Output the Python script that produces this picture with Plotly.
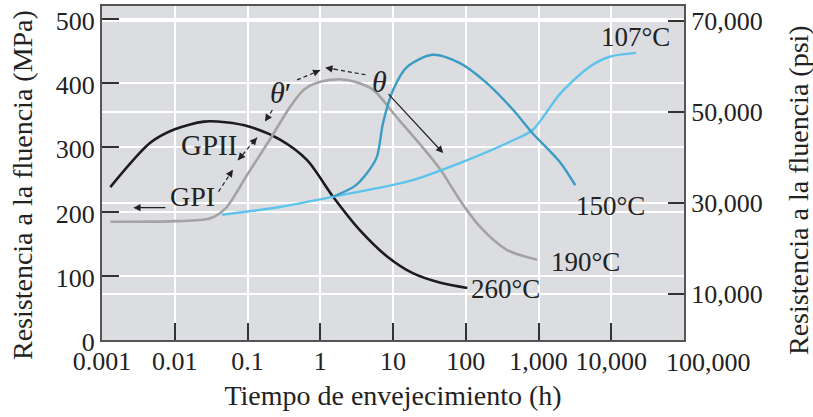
import numpy as np
import plotly.graph_objects as go

# ---- data (aging time in h, yield strength in MPa) ----
t_260 = [0.0013, 0.0046, 0.01, 0.025, 0.05, 0.107, 0.28, 0.66, 1.5, 3.5, 8.3, 18.7, 45, 105]
s_260 = [238, 307, 328, 340, 339, 332, 312, 280, 223, 171, 130, 104, 89, 81]

t_190 = [0.0013, 0.01, 0.03, 0.05, 0.1, 0.2, 0.38, 0.6, 1.0, 1.86, 3, 5.4, 11, 23, 45, 83, 158, 370, 960]
s_190 = [184, 185, 189, 205, 258, 311, 362, 390, 402, 406, 402, 389, 348, 306, 265, 218, 176, 140, 125]

t_150 = [1.5, 3, 4.4, 6, 7.3, 10, 15.5, 35, 83, 195, 450, 830, 2000, 3200]
s_150 = [223, 240, 260, 285, 338, 389, 425, 444, 431, 400, 358, 322, 276, 241]

t_107 = [0.045, 0.1, 0.28, 1.5, 18.7, 105, 450, 830, 2000, 5000, 9500, 22000]
s_107 = [195, 200, 207, 223, 249, 280, 311, 327, 384, 425, 441, 447]

x_tickvals = [0.001, 0.01, 0.1, 1, 10, 100, 1000, 10000, 100000]
x_ticktext = ["0.001", "0.01", "0.1", "1", "10", "100", "1,000", "10,000", ""]
x_last_label = "100,000"
y_tickvals = [0, 100, 200, 300, 400, 500]
psi_tickvals = [10000, 30000, 50000, 70000]
psi_ticktext = ["10,000", "30,000", "50,000", "70,000"]

# annotation arrows: (tail_t, tail_s, head_t, head_s, both_ends, dashed)
arrows = [
    (0.0078, 206, 0.0027, 206, False, False),
    (0.04, 231, 0.063, 265, False, True),
    (0.074, 280, 0.135, 315, True, True),
    (0.22, 358, 0.174, 340, False, True),
    (0.48, 405, 1.0, 420, False, True),
    (4.2, 413, 1.17, 424, False, True),
    (8.3, 385, 49, 291, False, False),
]

FONT = "Liberation Serif"
TXT = "#222222"
TICK = 26
XTITLE = 28
YTITLE = 28

W, H = 813, 417
ML, MR, MT, MB = 102, 129, 6, 77
PW, PH = W - ML - MR, H - MT - MB

fig = go.Figure()
fig.add_trace(go.Scatter(x=t_260, y=s_260, mode="lines", line=dict(color="#1c1c1c", width=2.6, shape="spline", smoothing=0.8), showlegend=False))
fig.add_trace(go.Scatter(x=t_190, y=s_190, mode="lines", line=dict(color="#a3a3a3", width=2.6, shape="spline", smoothing=0.8), showlegend=False))
fig.add_trace(go.Scatter(x=t_107, y=s_107, mode="lines", line=dict(color="#5cc4ec", width=2.4, shape="spline", smoothing=0.8), showlegend=False))
fig.add_trace(go.Scatter(x=t_150, y=s_150, mode="lines", line=dict(color="#3a9cc4", width=2.4, shape="spline", smoothing=0.8), showlegend=False))
# invisible trace to activate the psi axis
fig.add_trace(go.Scatter(x=[0.001], y=[10000], yaxis="y2", mode="markers", marker=dict(opacity=0), showlegend=False, hoverinfo="skip"))

L = np.log10
ann = []
def label(x, y, text, xanchor="center", size=27):
    ann.append(dict(x=L(x), y=y, text=text, showarrow=False, xanchor=xanchor, yanchor="middle",
                    font=dict(family=FONT, size=size, color=TXT)))

def head(x0, y0, x1, y1, frac=1.0):
    # arrow annotation ending at (x1, y1); tail placed a fraction of the way back
    lx0, lx1 = L(x0), L(x1)
    ax = lx1 + (lx0 - lx1) * frac
    ay = y1 + (y0 - y1) * frac
    ann.append(dict(x=lx1, y=y1, ax=ax, ay=ay, xref="x", yref="y", axref="x", ayref="y",
                    text="", showarrow=True, arrowhead=2, arrowsize=1.2, arrowwidth=1.2,
                    arrowcolor="#222222"))

for (x0, y0, x1, y1, both, dashed) in arrows:
    if dashed:
        fig.add_trace(go.Scatter(x=[x0, x1], y=[y0, y1], mode="lines",
                                 line=dict(color="#222222", width=1.2, dash="4px,3px"),
                                 showlegend=False, hoverinfo="skip"))
        head(x0, y0, x1, y1, frac=0.3)
        if both:
            head(x1, y1, x0, y0, frac=0.3)
    else:
        head(x0, y0, x1, y1)

label(112, 79, "260°C", "left")
label(1400, 121, "190°C", "left")
label(3100, 208, "150°C", "left")
label(6800, 472, "107°C", "left")
label(0.0174, 223, "GPI", size=28)
label(0.0295, 303, "GPII", size=29)
label(0.28, 386, "<i>θ</i>′", size=30)
label(6.6, 403, "<i>θ</i>", size=30)

# last x tick label sits a bit to the right of its tick in the reference
ann.append(dict(x=L(100000), y=0, xref="x", yref="paper", text=x_last_label, showarrow=False,
                xanchor="center", yanchor="top", xshift=24, yshift=-6,
                font=dict(family=FONT, size=TICK, color=TXT)))

# vertical axis titles (placed as in the reference)
def px_to_paper(px, py):
    return (px - ML) / PW, (H - MB - py) / PH

lx, ly = px_to_paper(22, 185)
ann.append(dict(x=lx, y=ly, xref="paper", yref="paper", text="Resistencia a la fluencia (MPa)",
                textangle=-90, showarrow=False, xanchor="center", yanchor="middle",
                font=dict(family=FONT, size=YTITLE, color=TXT)))
rx, ry = px_to_paper(798, 190)
ann.append(dict(x=rx, y=ry, xref="paper", yref="paper", text="Resistencia a la fluencia (psi)",
                textangle=-90, showarrow=False, xanchor="center", yanchor="middle",
                font=dict(family=FONT, size=YTITLE, color=TXT)))

axis_line = "#555555"
fig.update_layout(
    width=W, height=H,
    margin=dict(l=ML, r=MR, t=MT, b=MB),
    paper_bgcolor="white", plot_bgcolor="#dcdde0",
    font=dict(family=FONT, size=TICK, color=TXT),
    annotations=ann,
    xaxis=dict(type="log", range=[-3, 5], tickvals=x_tickvals, ticktext=x_ticktext,
               ticks="inside", ticklen=17, tickwidth=2, tickcolor="#333333",
               ticklabelstandoff=-3,
               showgrid=True, gridcolor="white", gridwidth=1.5,
               showline=True, linecolor=axis_line, linewidth=2, mirror=True,
               zeroline=False, automargin=False,
               title=dict(text="Tiempo de envejecimiento (h)", font=dict(family=FONT, size=XTITLE, color=TXT), standoff=10),
               tickfont=dict(family=FONT, size=TICK, color=TXT)),
    yaxis=dict(range=[0, 520], tickvals=y_tickvals,
               ticks="inside", ticklen=17, tickwidth=2, tickcolor="#333333",
               ticklabelshift=2,
               showgrid=True, gridcolor="white", gridwidth=1.5,
               showline=True, linecolor=axis_line, linewidth=2,
               zeroline=False, automargin=False,
               tickfont=dict(family=FONT, size=TICK, color=TXT)),
    yaxis2=dict(overlaying="y", side="right", range=[-110, 73300],
                tickvals=psi_tickvals, ticktext=psi_ticktext,
                ticks="inside", ticklen=16, tickwidth=2, tickcolor="#333333",
                showgrid=True, gridcolor="white", gridwidth=1.5,
                showline=True, linecolor=axis_line, linewidth=2,
                zeroline=False, automargin=False,
                tickfont=dict(family=FONT, size=TICK, color=TXT)),
)

fig.write_html("out.html", config={"displayModeBar": False},
               post_script="document.body.style.margin='0';")
